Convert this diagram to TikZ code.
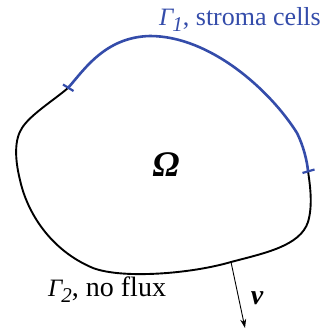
\documentclass[tikz,border=0pt]{standalone}
\usepackage{fontspec}
\setmainfont{Liberation Serif}
\usetikzlibrary{arrows.meta}
\definecolor{strblue}{RGB}{52,76,170}
\tikzset{
  bluepart/.style={draw=strblue,line width=2.6pt,line cap=round},
  blackpart/.style={draw=black,line width=1.9pt,line cap=round},
  tickmark/.style={draw=strblue,line width=2.2pt},
  normalarrow/.style={draw=black,line width=0.9pt,-{Stealth[length=9pt,width=6pt]}},
  lbl/.style={inner sep=0pt,anchor=base west},
}
\begin{document}
\begin{tikzpicture}[x=1pt,y=-1pt]
\useasboundingbox (0,0) rectangle (323,331);
% junction points
\coordinate (A) at (68,88);
\coordinate (B) at (308,171);
\coordinate (N0) at (231,262);
\coordinate (N1) at (245,328);
% black part (Gamma_2)
\draw[blackpart] (A) .. controls (54,100) and (30,115) .. (22,128)
  .. controls (14,140) and (15,160) .. (20,180)
  .. controls (27,212) and (50,250) .. (93,268)
  .. controls (122,279) and (190,274) .. (231,262)
  .. controls (265,253) and (300,246) .. (308,222)
  .. controls (313,205) and (310,185) .. (B);
% blue part (Gamma_1)
\draw[bluepart] (A) .. controls (84,70) and (105,37) .. (150,36)
  .. controls (210,36) and (270,90) .. (297,133)
  .. controls (303,145) and (307,160) .. (B);
% ticks
\draw[tickmark] (63,84.5) -- (73.5,91);
\draw[tickmark] (302.5,173) -- (314.5,169.5);
% normal
\draw[normalarrow] (N0) -- (N1);
% labels
\node[lbl,text=strblue] (g1) at (159,26) {{\fontsize{25}{25}\selectfont\itshape Γ}\kern-1pt\raisebox{-6pt}{\fontsize{21}{21}\selectfont\itshape 1}{\fontsize{26}{26}\selectfont, stroma cells}};
\node[lbl] (g2) at (48,296) {{\fontsize{25}{25}\selectfont\itshape Γ}\kern-1pt\raisebox{-6pt}{\fontsize{21}{21}\selectfont\itshape 2}{\fontsize{28}{28}\selectfont, no flux}};
\node[inner sep=0pt] (om) at (166,165) {\fontsize{36}{36}\selectfont\bfseries\itshape Ω};
\node[inner sep=0pt] (nu) at (257,298) {\fontsize{28}{28}\selectfont\bfseries\itshape ν};
\end{tikzpicture}
\end{document}
